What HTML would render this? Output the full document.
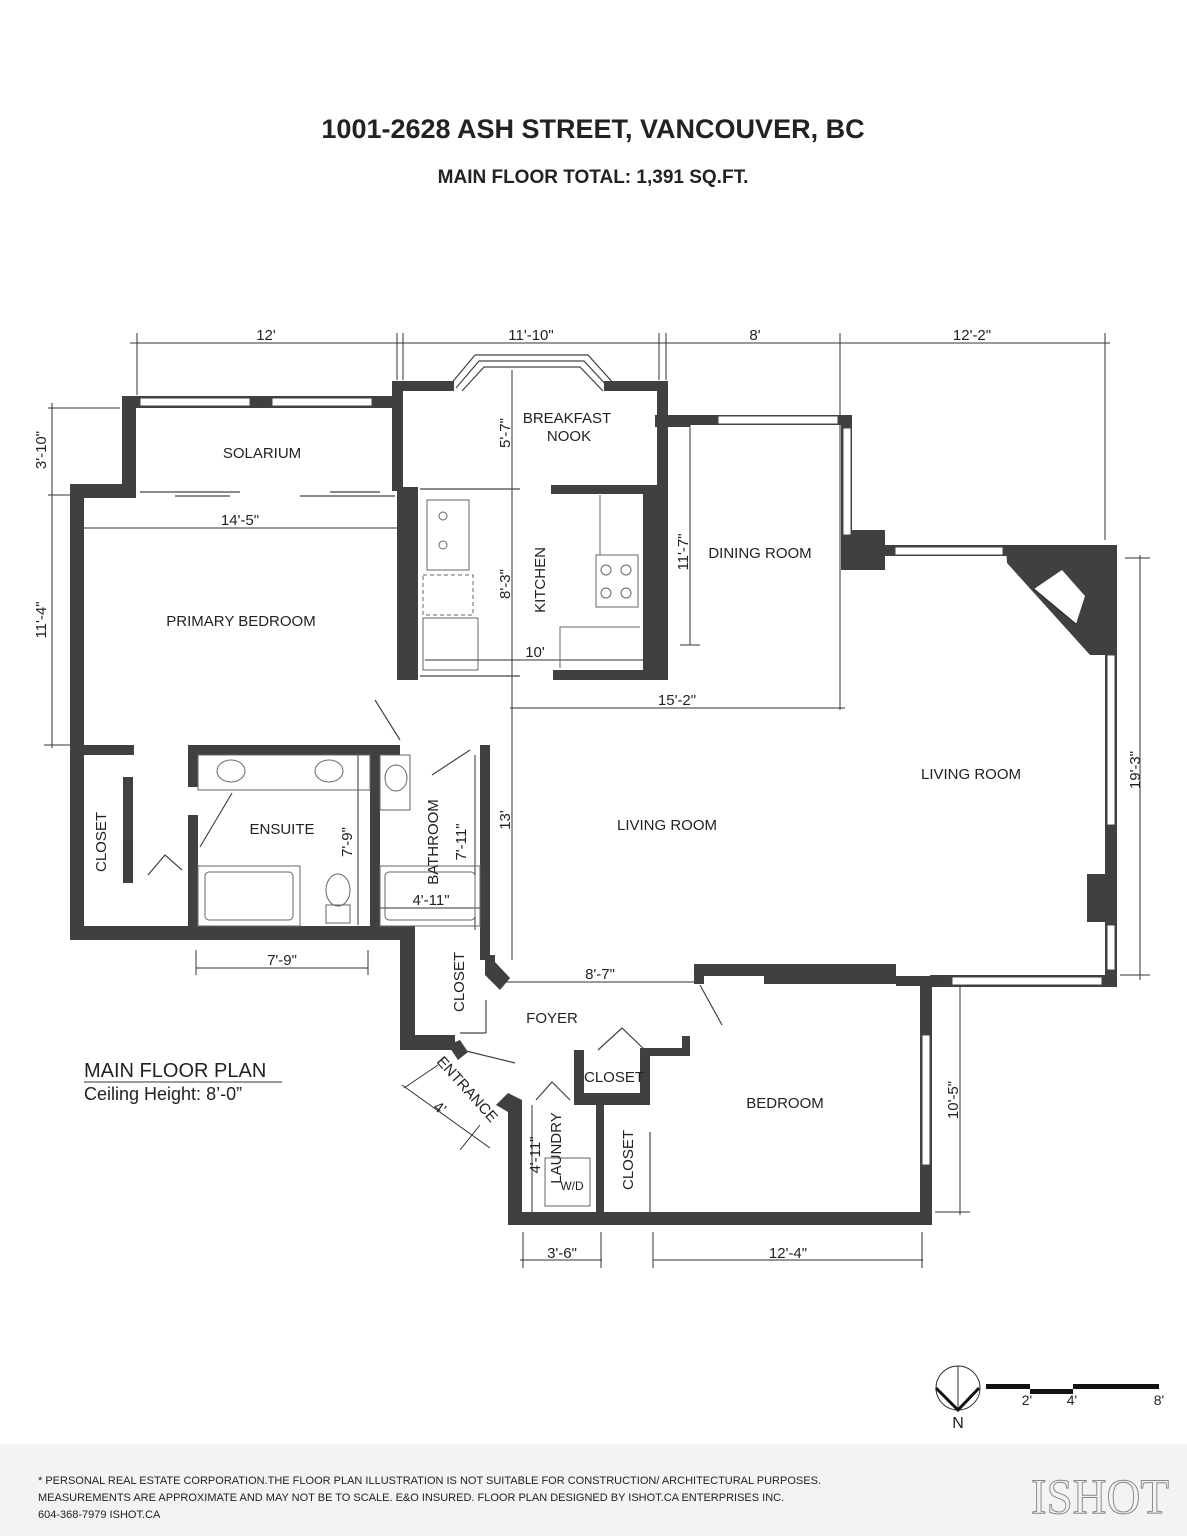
<!DOCTYPE html>
<html><head><meta charset="utf-8"><style>
html,body{margin:0;padding:0;background:#fff}
svg{display:block}
text{font-family:"Liberation Sans",sans-serif;fill:#222}
</style></head><body>
<svg width="1187" height="1536" viewBox="0 0 1187 1536" xmlns="http://www.w3.org/2000/svg">
<rect width="1187" height="1536" fill="#fff"/>
<text x="593" y="138" font-size="27" font-weight="bold" text-anchor="middle">1001-2628 ASH STREET, VANCOUVER, BC</text>
<text x="593" y="183" font-size="19" font-weight="bold" text-anchor="middle">MAIN FLOOR TOTAL: 1,391 SQ.FT.</text>

<g stroke="#333" stroke-width="1" fill="none">
<line x1="130" y1="343" x2="1110" y2="343"/>
<line x1="137" y1="333" x2="137" y2="395"/><line x1="397" y1="333" x2="397" y2="380"/><line x1="403" y1="333" x2="403" y2="380"/>
<line x1="659" y1="333" x2="659" y2="380"/><line x1="666" y1="333" x2="666" y2="380"/><line x1="840" y1="333" x2="840" y2="710"/>
<line x1="1105" y1="333" x2="1105" y2="540"/>
<line x1="48" y1="408" x2="120" y2="408"/><line x1="48" y1="495" x2="70" y2="495"/>
<line x1="52" y1="403" x2="52" y2="748"/><line x1="44" y1="745" x2="70" y2="745"/>
<line x1="84" y1="528" x2="397" y2="528"/>
<line x1="512" y1="370" x2="512" y2="960"/>
<line x1="425" y1="660" x2="645" y2="660"/>
<line x1="510" y1="708" x2="845" y2="708"/>
<line x1="690" y1="425" x2="690" y2="645"/><line x1="680" y1="645" x2="700" y2="645"/>
<line x1="1125" y1="558" x2="1150" y2="558"/><line x1="1140" y1="555" x2="1140" y2="980"/><line x1="1120" y1="975" x2="1150" y2="975"/>
<line x1="358" y1="755" x2="358" y2="925"/>
<line x1="475" y1="755" x2="475" y2="930"/>
<line x1="380" y1="908" x2="487" y2="908"/>
<line x1="196" y1="968" x2="368" y2="968"/><line x1="196" y1="950" x2="196" y2="975"/><line x1="368" y1="950" x2="368" y2="975"/>
<line x1="500" y1="982" x2="695" y2="982"/>
<line x1="960" y1="985" x2="960" y2="1215"/><line x1="935" y1="1212" x2="970" y2="1212"/>
<line x1="532" y1="1105" x2="532" y2="1212"/>
<line x1="520" y1="1260" x2="602" y2="1260"/><line x1="523" y1="1232" x2="523" y2="1268"/><line x1="601" y1="1232" x2="601" y2="1268"/>
<line x1="653" y1="1260" x2="923" y2="1260"/><line x1="653" y1="1232" x2="653" y2="1268"/><line x1="922" y1="1232" x2="922" y2="1268"/>
<line x1="402" y1="1085" x2="490" y2="1148"/><line x1="438" y1="1065" x2="404" y2="1088"/><line x1="480" y1="1125" x2="460" y2="1150"/>
</g>
<g font-size="15" text-anchor="middle">
<text x="266" y="340">12'</text><text x="531" y="340">11'-10"</text><text x="755" y="340">8'</text><text x="972" y="340">12'-2"</text>
<text x="240" y="525">14'-5"</text><text x="535" y="657">10'</text><text x="677" y="705">15'-2"</text>
<text x="431" y="905">4'-11"</text><text x="282" y="965">7'-9"</text><text x="600" y="979">8'-7"</text>
<text x="562" y="1258">3'-6"</text><text x="788" y="1258">12'-4"</text>
<text transform="translate(46,450) rotate(-90)">3'-10"</text>
<text transform="translate(46,620) rotate(-90)">11'-4"</text>
<text transform="translate(510,433) rotate(-90)">5'-7"</text>
<text transform="translate(510,584) rotate(-90)">8'-3"</text>
<text transform="translate(688,552) rotate(-90)">11'-7"</text>
<text transform="translate(1140,770) rotate(-90)">19'-3"</text>
<text transform="translate(510,820) rotate(-90)">13'</text>
<text transform="translate(352,842) rotate(-90)">7'-9"</text>
<text transform="translate(466,842) rotate(-90)">7'-11"</text>
<text transform="translate(958,1100) rotate(-90)">10'-5"</text>
<text transform="translate(540,1155) rotate(-90)">4'-11"</text>
<text transform="translate(437,1112) rotate(35)">4'</text>
</g>

<g fill="#404040">
<rect x="122" y="396" width="278" height="12"/>
<rect x="122" y="396" width="14" height="100"/>
<rect x="70" y="484" width="66" height="14"/>
<rect x="70" y="484" width="14" height="456"/>
<rect x="70" y="926" width="345" height="14"/>
<rect x="84" y="745" width="50" height="10"/>
<rect x="392" y="381" width="62" height="10"/>
<rect x="392" y="381" width="11" height="110"/>
<rect x="604" y="381" width="64" height="10"/>
<rect x="657" y="381" width="11" height="110"/>
<rect x="551" y="485" width="106" height="9"/>
<rect x="397" y="487" width="21" height="193"/>
<rect x="643" y="487" width="25" height="193"/>
<rect x="553" y="670" width="100" height="10"/>
<rect x="655" y="415" width="35" height="12"/>
<rect x="688" y="415" width="164" height="10"/>
<rect x="841" y="415" width="11" height="130"/>
<rect x="841" y="530" width="44" height="40"/>
<rect x="852" y="545" width="265" height="11"/>
<polygon points="1006,545 1117,545 1117,655 1090,655 1007,563"/>
<rect x="1105" y="545" width="12" height="440"/>
<rect x="1087" y="874" width="30" height="48"/>
<rect x="930" y="975" width="187" height="12"/>
<rect x="694" y="964" width="202" height="12"/>
<rect x="764" y="964" width="132" height="20"/>
<rect x="896" y="976" width="36" height="10"/>
<rect x="694" y="964" width="10" height="20"/>
<rect x="920" y="980" width="12" height="245"/>
<rect x="508" y="1212" width="424" height="13"/>
<rect x="508" y="1100" width="14" height="125"/>
<polygon points="496,1105 508,1093 522,1100 522,1112 508,1112"/>
<rect x="596" y="1100" width="8" height="115"/>
<rect x="574" y="1050" width="10" height="50"/>
<rect x="574" y="1093" width="76" height="12"/>
<rect x="640" y="1050" width="10" height="55"/>
<rect x="640" y="1048" width="50" height="8"/>
<rect x="682" y="1036" width="8" height="20"/>
<rect x="188" y="745" width="212" height="10"/>
<rect x="188" y="745" width="10" height="42"/>
<rect x="188" y="815" width="10" height="115"/>
<rect x="370" y="745" width="10" height="190"/>
<rect x="480" y="745" width="10" height="215"/>
<rect x="123" y="777" width="10" height="106"/>
<rect x="400" y="935" width="15" height="115"/>
<rect x="400" y="1035" width="55" height="15"/>
<polygon points="485,955 495,955 495,962 510,978 500,990 485,975"/>
<polygon points="448,1045 460,1040 468,1052 458,1060"/>
</g>
<polygon points="1034,589 1062,570 1085,596 1076,624" fill="#fff"/>
<line x1="1034" y1="589" x2="1076" y2="624" stroke="#222" stroke-width="1"/>

<g fill="none" stroke="#444" stroke-width="1.2">
<polyline points="450,385 475,355 588,355 615,385"/>
<polyline points="456,388 479,361 584,361 609,388"/>
<polyline points="462,391 484,367 580,367 603,391"/>
</g>
<g fill="#fff" stroke="#444" stroke-width="1">
<rect x="140" y="398" width="110" height="8"/><rect x="272" y="398" width="100" height="8"/>
<rect x="718" y="416" width="120" height="8"/>
<rect x="843" y="428" width="8" height="107"/>
<rect x="895" y="547" width="108" height="8"/>
<rect x="1107" y="655" width="8" height="170"/>
<rect x="1107" y="925" width="8" height="45"/>
<rect x="952" y="977" width="150" height="8"/>
<rect x="922" y="1035" width="8" height="130"/>
</g>
<g stroke="#444" stroke-width="1.2" fill="none">
<line x1="140" y1="492" x2="240" y2="492"/><line x1="175" y1="496" x2="230" y2="496"/>
<line x1="300" y1="496" x2="395" y2="496"/><line x1="330" y1="492" x2="380" y2="492"/>
<line x1="420" y1="489" x2="520" y2="489"/><line x1="420" y1="676" x2="520" y2="676"/>
<line x1="375" y1="700" x2="400" y2="740"/>
<line x1="432" y1="775" x2="470" y2="750"/>
<line x1="200" y1="847" x2="232" y2="793"/>
<polyline points="148,875 165,855 182,870"/>
<line x1="700" y1="985" x2="722" y2="1025"/>
<polyline points="598,1050 622,1028 647,1052"/>
<polyline points="536,1100 552,1082 570,1100"/>
<line x1="462" y1="1050" x2="515" y2="1063"/>
<line x1="486" y1="1000" x2="486" y2="1033"/><line x1="460" y1="1033" x2="486" y2="1033"/>
<line x1="128" y1="780" x2="128" y2="840"/>
<line x1="650" y1="1132" x2="650" y2="1212"/>
</g>
<g stroke="#666" stroke-width="1" fill="none">
<rect x="198" y="755" width="172" height="35"/>
<ellipse cx="231" cy="771" rx="14" ry="11"/><ellipse cx="329" cy="771" rx="14" ry="11"/>
<rect x="198" y="866" width="102" height="60"/><rect x="205" y="872" width="88" height="48" rx="4"/>
<ellipse cx="338" cy="890" rx="12" ry="16"/><rect x="326" y="905" width="24" height="18"/>
<rect x="380" y="755" width="30" height="55"/><ellipse cx="396" cy="778" rx="11" ry="13"/>
<rect x="380" y="866" width="100" height="60"/><rect x="385" y="872" width="90" height="48" rx="4"/>
<rect x="427" y="500" width="42" height="70"/><circle cx="443" cy="516" r="4"/><circle cx="443" cy="545" r="4"/>
<rect x="423" y="575" width="50" height="40" stroke-dasharray="4,3"/>
<rect x="423" y="618" width="55" height="52"/>
<rect x="596" y="555" width="42" height="52"/><circle cx="606" cy="570" r="5"/><circle cx="626" cy="570" r="5"/><circle cx="606" cy="593" r="5"/><circle cx="626" cy="593" r="5"/>
<polyline points="560,668 560,627 640,627"/>
<line x1="600" y1="495" x2="600" y2="555"/>
<rect x="545" y="1158" width="45" height="48"/>
</g>
<g font-size="15" text-anchor="middle">
<text x="262" y="458">SOLARIUM</text>
<text x="567" y="423">BREAKFAST</text><text x="569" y="441">NOOK</text>
<text x="760" y="558">DINING ROOM</text>
<text x="241" y="626">PRIMARY BEDROOM</text>
<text x="282" y="834">ENSUITE</text>
<text x="971" y="779">LIVING ROOM</text>
<text x="667" y="830">LIVING ROOM</text>
<text x="552" y="1023">FOYER</text>
<text x="614" y="1082">CLOSET</text>
<text x="785" y="1108">BEDROOM</text>
<text transform="translate(545,580) rotate(-90)">KITCHEN</text>
<text transform="translate(106,842) rotate(-90)">CLOSET</text>
<text transform="translate(438,842) rotate(-90)">BATHROOM</text>
<text transform="translate(464,982) rotate(-90)">CLOSET</text>
<text transform="translate(561,1148) rotate(-90)">LAUNDRY</text>
<text transform="translate(633,1160) rotate(-90)">CLOSET</text>
<text transform="translate(436,1062) rotate(48)" text-anchor="start">ENTRANCE</text>
<text x="572" y="1190" font-size="12" fill="#999">W/D</text>
</g>
<text x="84" y="1077" font-size="20">MAIN FLOOR PLAN</text>
<line x1="84" y1="1082" x2="282" y2="1082" stroke="#333" stroke-width="1"/>
<text x="84" y="1100" font-size="18">Ceiling Height: 8’-0”</text>

<circle cx="958" cy="1388" r="22" fill="none" stroke="#333" stroke-width="1"/>
<line x1="958" y1="1366" x2="958" y2="1410" stroke="#333" stroke-width="1"/>
<polyline points="936,1388 958,1410 979,1388" fill="none" stroke="#111" stroke-width="3"/>
<text x="958" y="1428" font-size="16" text-anchor="middle">N</text>
<rect x="986" y="1384" width="44" height="5" fill="#111"/>
<rect x="1030" y="1389" width="43" height="5" fill="#111"/>
<rect x="1073" y="1384" width="86" height="5" fill="#111"/>
<g font-size="14" text-anchor="middle"><text x="1027" y="1405">2'</text><text x="1072" y="1405">4'</text><text x="1159" y="1405">8'</text></g>

<rect x="0" y="1444" width="1187" height="92" fill="#f3f3f3"/>
<g font-size="11">
<text x="38" y="1484">* PERSONAL REAL ESTATE CORPORATION.THE FLOOR PLAN ILLUSTRATION IS NOT SUITABLE FOR CONSTRUCTION/ ARCHITECTURAL PURPOSES.</text>
<text x="38" y="1501">MEASUREMENTS ARE APPROXIMATE AND MAY NOT BE TO SCALE. E&amp;O INSURED. FLOOR PLAN DESIGNED BY ISHOT.CA ENTERPRISES INC.</text>
<text x="38" y="1518">604-368-7979  ISHOT.CA</text>
</g>
<text x="1100" y="1513" font-size="50" text-anchor="middle" textLength="138" lengthAdjust="spacingAndGlyphs" style="font-family:'Liberation Serif',serif;fill:none;stroke:#888;stroke-width:1">ISHOT</text>
</svg>
</body></html>
